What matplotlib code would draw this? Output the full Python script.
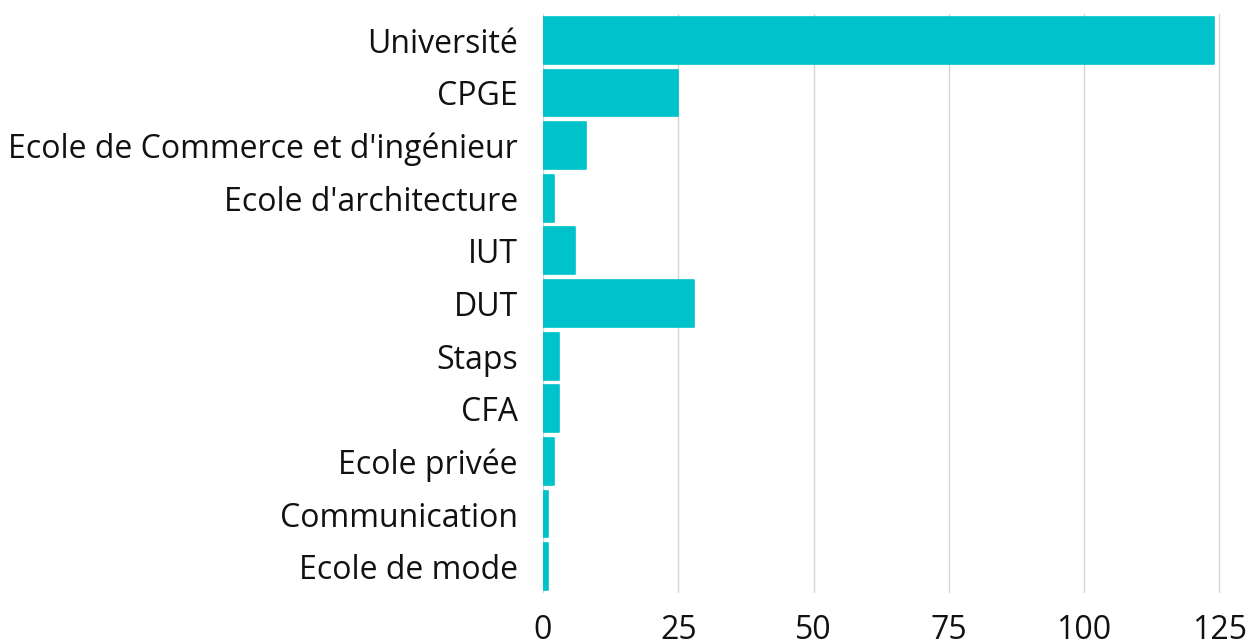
import matplotlib
matplotlib.use("Agg")
import matplotlib.pyplot as plt

categories = ["Université", "CPGE", "Ecole de Commerce et d'ingénieur", "Ecole d'architecture",
              "IUT", "DUT", "Staps", "CFA", "Ecole privée", "Communication", "Ecole de mode"]
values = [124, 25, 8, 2, 6, 28, 3, 3, 2, 1, 1]
xticks = [0, 25, 50, 75, 100, 125]

plt.rcParams['font.family'] = ['Open Sans', 'DejaVu Sans']

fig = plt.figure(figsize=(12.48, 6.4), dpi=100)
W, H = 1248, 640
ax = fig.add_axes([543 / W, (H - 593) / H, (W - 543) / W, (593 - 14) / H])

color = "#00C2CB"
ypos = list(range(len(categories)))
bars = ax.barh(ypos, values, height=0.89, color=color, edgecolor=color,
               linewidth=1.2, zorder=3)
for b in bars:
    b.set_joinstyle("round")

ax.set_yticks(ypos)
ax.set_yticklabels(categories, fontsize=23, color="#111111")
ax.set_ylim(10.5, -0.5)
ax.set_xlim(0, 705 / 5.41)
ax.set_xticks(xticks)
ax.set_xticklabels([str(t) for t in xticks], fontsize=23, color="#111111")
ax.tick_params(axis="both", length=0)
ax.tick_params(axis="y", pad=18)
ax.tick_params(axis="x", pad=15)
ax.grid(axis="x", color="#d6d6d6", linewidth=1, zorder=0)
for s in ax.spines.values():
    s.set_visible(False)

fig.savefig("out.png", dpi=100)
